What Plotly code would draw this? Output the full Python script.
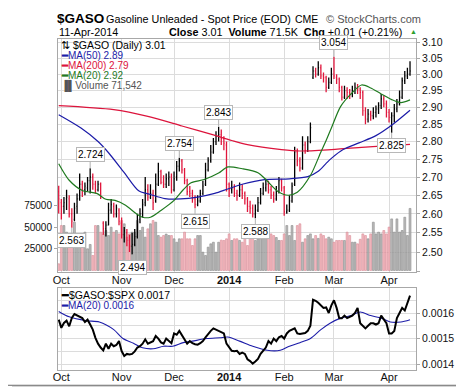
import math
import pandas as pd
import plotly.graph_objects as go

# ---------------- data ----------------
trade_days = pd.bdate_range("2013-09-30", "2014-04-11")
holidays = pd.to_datetime(["2013-11-28", "2013-12-25", "2014-01-01", "2014-01-20", "2014-02-17"])
trade_days = trade_days[~trade_days.isin(holidays)]

month_labels = ["Oct", "Nov", "Dec", "<b>2014</b>", "Feb", "Mar", "Apr"]

opens = [2.66,2.63,2.62,2.64,2.64,2.60,2.585,2.62,2.64,2.68,
         2.665,2.67,2.69,2.70,2.68,2.665,2.68,2.575,2.56,2.57,
         2.61,2.62,2.60,2.61,2.575,2.545,2.55,2.53,2.515,2.52,
         2.54,2.585,2.60,2.63,2.665,2.645,2.655,2.635,2.68,2.715,
         2.685,2.68,2.695,2.70,2.665,2.70,2.73,2.745,2.72,2.69,
         2.66,2.655,2.64,2.625,2.635,2.655,2.68,2.72,2.745,2.77,
         2.80,2.815,2.82,2.81,2.79,2.68,2.665,2.67,2.655,2.65,
         2.665,2.655,2.64,2.62,2.615,2.60,2.61,2.63,2.655,2.67,
         2.68,2.665,2.65,2.64,2.66,2.69,2.67,2.605,2.61,2.635,
         2.68,2.77,2.745,2.725,2.79,2.775,2.80,2.99,3.01,3.00,
         3.02,2.995,2.99,2.96,2.975,3.00,2.99,2.985,2.96,2.93,
         2.95,2.945,2.94,2.95,2.96,2.955,2.945,2.89,2.865,2.88,
         2.875,2.885,2.895,2.905,2.925,2.91,2.885,2.87,2.875,2.895,
         2.91,2.93,2.98,2.995,3.00]
highs = [2.676,2.64,2.645,2.665,2.65,2.615,2.63,2.655,2.71,2.69,
         2.685,2.70,2.724,2.71,2.69,2.69,2.685,2.58,2.58,2.63,
         2.64,2.63,2.625,2.615,2.59,2.565,2.56,2.545,2.55,2.56,
         2.60,2.615,2.64,2.70,2.68,2.68,2.665,2.71,2.74,2.72,
         2.705,2.71,2.715,2.71,2.715,2.745,2.754,2.75,2.725,2.695,
         2.675,2.665,2.65,2.65,2.665,2.69,2.74,2.755,2.79,2.81,
         2.83,2.843,2.835,2.815,2.80,2.685,2.69,2.68,2.665,2.685,
         2.68,2.66,2.645,2.635,2.625,2.625,2.645,2.67,2.685,2.695,
         2.69,2.675,2.66,2.675,2.70,2.695,2.675,2.625,2.65,2.685,
         2.785,2.78,2.755,2.815,2.80,2.815,2.855,3.025,3.02,3.04,
         3.03,3.005,2.995,2.99,3.02,3.054,3.00,2.99,2.965,2.965,
         2.96,2.955,2.965,2.975,2.97,2.96,2.95,2.90,2.895,2.89,
         2.90,2.905,2.915,2.94,2.935,2.92,2.895,2.885,2.91,2.925,
         2.95,2.99,3.01,3.02,3.04]
lows = [2.601,2.585,2.60,2.61,2.59,2.563,2.58,2.60,2.635,2.645,
        2.65,2.66,2.655,2.665,2.655,2.66,2.64,2.545,2.54,2.57,
        2.60,2.59,2.59,2.57,2.535,2.525,2.515,2.50,2.494,2.515,
        2.535,2.575,2.59,2.62,2.635,2.64,2.61,2.63,2.675,2.68,
        2.67,2.67,2.675,2.655,2.66,2.69,2.715,2.71,2.68,2.65,
        2.645,2.63,2.615,2.62,2.63,2.65,2.675,2.715,2.74,2.765,
        2.79,2.80,2.79,2.775,2.66,2.645,2.655,2.645,2.635,2.645,
        2.64,2.625,2.605,2.60,2.59,2.588,2.605,2.625,2.65,2.66,
        2.655,2.64,2.63,2.635,2.655,2.66,2.595,2.60,2.605,2.63,
        2.675,2.73,2.715,2.72,2.765,2.77,2.795,2.985,2.99,2.995,
        2.985,2.975,2.945,2.955,2.97,2.985,2.97,2.945,2.92,2.925,
        2.925,2.925,2.93,2.94,2.94,2.925,2.875,2.85,2.855,2.86,
        2.865,2.87,2.88,2.895,2.90,2.87,2.855,2.825,2.855,2.885,
        2.905,2.925,2.97,2.985,2.995]
closes = [2.64,2.62,2.63,2.645,2.60,2.58,2.615,2.64,2.68,2.665,
          2.675,2.69,2.70,2.68,2.665,2.68,2.645,2.56,2.57,2.61,
          2.625,2.60,2.615,2.58,2.545,2.555,2.53,2.515,2.52,2.54,
          2.585,2.60,2.625,2.665,2.645,2.655,2.63,2.68,2.715,2.685,
          2.68,2.695,2.70,2.665,2.695,2.73,2.745,2.72,2.69,2.66,
          2.655,2.64,2.625,2.635,2.655,2.675,2.72,2.745,2.77,2.80,
          2.815,2.82,2.81,2.795,2.68,2.665,2.67,2.655,2.65,2.665,
          2.655,2.64,2.62,2.615,2.60,2.61,2.63,2.655,2.67,2.68,
          2.665,2.65,2.64,2.66,2.69,2.67,2.605,2.61,2.635,2.675,
          2.77,2.745,2.725,2.79,2.775,2.80,2.84,3.01,3.00,3.02,
          2.995,2.99,2.96,2.975,3.00,2.995,2.985,2.96,2.93,2.95,
          2.945,2.94,2.95,2.96,2.955,2.945,2.89,2.865,2.88,2.875,
          2.885,2.895,2.905,2.925,2.91,2.885,2.87,2.875,2.895,2.91,
          2.93,2.98,2.995,3.00,3.01]
volume = [7700,51800,51800,44200,40300,38400,55700,28800,32600,34600,
          44200,25000,30000,17300,51800,51800,44200,42200,46100,40300,
          49900,44200,46100,42200,57600,53800,38400,42200,44200,44200,
          57600,46100,49900,38400,48000,53800,57600,55700,40300,38400,
          40300,42000,40300,40300,36500,32600,36500,36500,44200,36500,
          36500,28800,36500,40300,40300,21100,17300,26900,30700,32600,
          21100,32600,35000,34600,36500,42200,34600,36500,36500,34600,
          32600,40300,28800,40300,38400,34600,36500,40300,44200,44200,
          40300,42200,40300,38000,34600,34600,42200,51800,40300,51800,
          34600,51800,53800,32600,36500,40300,42200,36500,40300,37000,
          42200,40300,36500,38400,36500,32600,34600,34600,34600,34600,
          44200,40300,32600,32600,30700,36000,42200,40300,36500,42200,
          55700,42200,44200,42200,46100,42200,50000,59500,44200,59500,
          44200,46100,61400,40300,71542]

ma200_idx = [0, 21, 34, 47, 59, 66, 72, 85, 92, 104, 117, 123, 134]
ma200_val = [2.905, 2.893, 2.873, 2.845, 2.819, 2.803, 2.791, 2.777, 2.773, 2.777, 2.784, 2.787, 2.792]
ma50_idx = [0, 8.5, 15, 19, 25, 30.5, 35, 40.5, 46.5, 53, 59.5, 64.5, 70, 78.5, 88, 95, 99, 102, 104, 108.5, 114.5, 121, 127.5, 134]
ma50_val = [2.878, 2.839, 2.800, 2.768, 2.712, 2.662, 2.652, 2.641, 2.640, 2.645, 2.655, 2.667, 2.680, 2.693, 2.695, 2.701, 2.716, 2.738, 2.752, 2.777, 2.796, 2.817, 2.850, 2.891]
ma20_idx = [0, 4, 9, 14.5, 18, 21.5, 25.5, 29.5, 32, 35, 39, 44, 47.5, 50.5, 55.5, 61, 64.5, 70, 76, 79, 83.5, 87.5, 91, 96, 100, 102, 104, 107.5, 111.5, 115.5, 119, 123, 127, 130.5, 134]
ma20_val = [2.737, 2.691, 2.663, 2.655, 2.639, 2.636, 2.623, 2.601, 2.591, 2.591, 2.609, 2.636, 2.665, 2.684, 2.693, 2.711, 2.728, 2.723, 2.712, 2.693, 2.661, 2.650, 2.658, 2.704, 2.770, 2.803, 2.839, 2.902, 2.940, 2.967, 2.958, 2.940, 2.923, 2.914, 2.922]

ratio = [0.001574,0.001542,0.001561,0.001570,0.001548,0.001581,0.001596,0.001590,0.001585,0.001580,
         0.001565,0.001574,0.001555,0.001535,0.001503,0.001480,0.001465,0.001454,0.001480,0.001460,
         0.001480,0.001470,0.001475,0.001490,0.001451,0.001432,0.001440,0.001438,0.001440,0.001450,
         0.001465,0.001470,0.001480,0.001497,0.001480,0.001485,0.001490,0.001510,0.001500,0.001485,
         0.001480,0.001500,0.001490,0.001482,0.001520,0.001515,0.001530,0.001515,0.001500,0.001480,
         0.001490,0.001482,0.001478,0.001476,0.001482,0.001490,0.001505,0.001520,0.001530,0.001540,
         0.001535,0.001530,0.001528,0.001520,0.001480,0.001465,0.001452,0.001450,0.001452,0.001440,
         0.001445,0.001440,0.001419,0.001412,0.001402,0.001410,0.001420,0.001440,0.001455,0.001465,
         0.001490,0.001480,0.001500,0.001490,0.001505,0.001510,0.001500,0.001520,0.001530,0.001535,
         0.001540,0.001520,0.001518,0.001520,0.001522,0.001530,0.001550,0.001652,0.001648,0.001640,
         0.001630,0.001620,0.001622,0.001600,0.001630,0.001650,0.001620,0.001580,0.001580,0.001590,
         0.001580,0.001585,0.001590,0.001600,0.001620,0.001560,0.001550,0.001540,0.001550,0.001560,
         0.001560,0.001555,0.001560,0.001590,0.001575,0.001560,0.001520,0.001520,0.001530,0.001580,
         0.001600,0.001620,0.001610,0.001640,0.001668]
ratio_ma_idx = [0, 4, 10.5, 15.5, 21, 24.5, 28.5, 32, 36, 40, 43.5, 47.5, 51, 56.5, 61.5, 64.5, 69, 74, 79.5, 84.5, 88, 92, 96, 100, 103.5, 107.5, 111.5, 115, 119, 123, 126.5, 130.5, 134]
ratio_ma_val = [0.001606, 0.001585, 0.001570, 0.001565, 0.001535, 0.001500, 0.001482, 0.001464, 0.001460, 0.001470, 0.001470, 0.001484, 0.001490, 0.001500, 0.001503, 0.001506, 0.001490, 0.001470, 0.001454, 0.001454, 0.001470, 0.001484, 0.001500, 0.001535, 0.001560, 0.001580, 0.001590, 0.001604, 0.001590, 0.001580, 0.001565, 0.001565, 0.001574]

price_ticks = [2.45, 2.50, 2.55, 2.60, 2.65, 2.70, 2.75, 2.80, 2.85, 2.90, 2.95, 3.00, 3.05, 3.10]
vol_ticks = [25000, 50000, 75000]
ratio_ticks = [0.0014, 0.0015, 0.0016]
ratio_minor = [0.00145, 0.00155, 0.00165]

# (day index, price, label above?)
price_labels = [(12, 2.724, True), (5, 2.563, False), (28, 2.494, False), (46, 2.754, True),
                (52, 2.615, False), (61, 2.843, True), (75, 2.588, False), (105, 3.054, True),
                (127, 2.825, False)]

# ---------------- figure ----------------
n = len(closes)
idx = list(range(n))
is_up = [i > 0 and closes[i] >= closes[i - 1] for i in idx]

months = trade_days.to_period("M")
tick_idx = [i for i in range(1, len(trade_days)) if months[i] != months[i - 1]]

FONT = "Liberation Sans, Arial, sans-serif"
GRID = "#dcdcdc"
FRAME = "#a8a8a8"

fig = go.Figure()

fig.add_trace(go.Bar(
    x=idx, y=volume, width=0.72, xaxis="x", yaxis="y", hoverinfo="skip",
    marker=dict(color=["rgba(175,175,175,0.85)" if u else "rgba(242,175,182,0.85)" for u in is_up],
                line=dict(color=["#8a8a8a" if u else "#d88a96" for u in is_up], width=0.6)),
))

for flag, col in ((True, "#000000"), (False, "#e0163c")):
    sel = [i for i in idx if is_up[i] == flag]
    fig.add_trace(go.Ohlc(
        x=sel, open=[opens[i] for i in sel], high=[highs[i] for i in sel],
        low=[lows[i] for i in sel], close=[closes[i] for i in sel],
        increasing=dict(line=dict(color=col, width=1.3)),
        decreasing=dict(line=dict(color=col, width=1.3)),
        tickwidth=0.3, xaxis="x", yaxis="y2", hoverinfo="skip",
    ))

for xs, ys, col in ((ma200_idx, ma200_val, "#dc143c"), (ma50_idx, ma50_val, "#1c1ca8"),
                    (ma20_idx, ma20_val, "#1f7a1f")):
    fig.add_trace(go.Scatter(x=xs, y=ys, mode="lines", xaxis="x", yaxis="y2", hoverinfo="skip",
                             line=dict(color=col, width=1.2, shape="spline", smoothing=0.8)))

fig.add_trace(go.Scatter(x=ratio_ma_idx, y=ratio_ma_val, mode="lines", xaxis="x2", yaxis="y3",
                         line=dict(color="#1c1ca8", width=1.1, shape="spline", smoothing=0.8), hoverinfo="skip"))
fig.add_trace(go.Scatter(x=idx, y=ratio, mode="lines", xaxis="x2", yaxis="y3",
                         line=dict(color="#000000", width=2), hoverinfo="skip"))

W, H = 464, 387
ML, MR, MT, MB = 50, 56, 31, 20
PW, PH = W - ML - MR, H - MT - MB


def px_x(p):
    return (p - ML) / PW


def px_y(p):
    return (H - MB - p) / PH


xrange_ = [-0.27, 136.28]
xcommon = dict(range=xrange_, tickvals=tick_idx, ticktext=month_labels, showgrid=True, gridcolor=GRID,
               zeroline=False, showline=True, mirror=True, linecolor=FRAME, ticks="",
               ticklabelstandoff=-3,
               tickfont=dict(family=FONT, size=11, color="#111"))

fig.update_layout(
    width=W, height=H, margin=dict(l=ML, r=MR, t=MT, b=MB),
    paper_bgcolor="white", plot_bgcolor="white", showlegend=False,
    xaxis=dict(domain=[0, 1], anchor="y", rangeslider=dict(visible=False), **xcommon),
    yaxis=dict(domain=[px_y(268), 1], range=[-2300, 267000], side="left", showgrid=False,
               zeroline=False, tickvals=vol_ticks, ticktext=[str(v) for v in vol_ticks],
               ticks="outside", ticklen=3, tickcolor=FRAME,
               tickfont=dict(family=FONT, size=10, color="#111")),
    yaxis2=dict(overlaying="y", side="right", type="log", anchor="x",
                range=[math.log10(2.4483), math.log10(3.1103)],
                tickvals=price_ticks, ticktext=["" if v < 2.5 else f"{v:.2f}" for v in price_ticks],
                showgrid=True, gridcolor=GRID, zeroline=False, showline=True, mirror=True,
                linecolor=FRAME, ticks="outside", ticklen=3, tickcolor=FRAME,
                tickfont=dict(family=FONT, size=10.5, color="#111")),
    xaxis2=dict(domain=[0, 1], anchor="y3", rangeslider=dict(visible=False), **xcommon),
    yaxis3=dict(domain=[0, px_y(284)], range=[0.001377, 0.001697], side="right", anchor="x2",
                tickvals=ratio_ticks, ticktext=[f"{v:.4f}" for v in ratio_ticks],
                showgrid=True, gridcolor=GRID, zeroline=False, showline=True, mirror=True,
                linecolor=FRAME, ticks="outside", ticklen=3, tickcolor=FRAME,
                minor=dict(tickvals=ratio_minor, showgrid=True, gridcolor=GRID, ticks=""),
                tickfont=dict(family=FONT, size=10.5, color="#111")),
)

ann = []


def text(xp, yp, t, size=10.5, color="#000", anchor="left", family=FONT):
    ann.append(dict(x=px_x(xp), y=px_y(yp), xref="paper", yref="paper", text=t, showarrow=False,
                    xanchor=anchor, yanchor="middle", font=dict(family=family, size=size, color=color)))


# header
text(47, 10, "<b>$GASO</b>", size=13.5)
text(96, 10.5, "Gasoline Unleaded - Spot Price (EOD)", size=10.8)
text(285, 10.5, "CME", size=10.5)
text(316, 10.5, "© StockCharts.com", size=11, color="#555")
text(49, 23.5, "11-Apr-2014", size=10.8)
text(396, 23.5, "<b>Close</b> 3.01  <b>Volume</b> 71.5K  <b>Chg</b> +0.01 (+0.21%)", size=10.8, anchor="right")
text(400, 23.5, "▲", size=7, color="#2e9e2e")

# main legend
text(51, 37, "⇅ $GASO (Daily) 3.01", size=10.5)
text(51, 47.5, "<b>━</b>MA(50) 2.89", size=10, color="#1c1ca8")
text(51, 58, "<b>━</b>MA(200) 2.79", size=10, color="#dc143c")
text(51, 68.5, "<b>━</b>MA(20) 2.92", size=10, color="#1f7a1f")
text(51, 79, "▐▌Volume 71,542", size=10, color="#555")

# ratio legend
text(51, 291, "<b>━</b>$GASO:$SPX 0.0017", size=10.5, color="#000")
text(51, 301.5, "<b>━</b>MA(20) 0.0016", size=10, color="#1c1ca8")

for i, v, above in price_labels:
    ann.append(dict(x=i, y=math.log10(v), xref="x", yref="y2", text=f"{v:.3f}", showarrow=True,
                    arrowhead=0, arrowwidth=1, arrowcolor="#b0b0b0", ax=0, ay=-14 if above else 13,
                    bgcolor="white", bordercolor="#b8b8b8", borderwidth=1, borderpad=1,
                    font=dict(family=FONT, size=10, color="#000")))

fig.update_layout(annotations=ann)

# frame shadow
shapes = [
    dict(type="rect", xref="paper", yref="paper", x0=px_x(461), x1=px_x(465), y0=px_y(386), y1=px_y(4),
         fillcolor="#d4d4d4", line=dict(width=0), layer="above"),
    dict(type="rect", xref="paper", yref="paper", x0=px_x(4), x1=px_x(465), y0=px_y(388), y1=px_y(383),
         fillcolor="#d4d4d4", line=dict(width=0), layer="above"),
    dict(type="line", xref="paper", yref="paper", x0=px_x(460.5), x1=px_x(460.5), y0=px_y(0), y1=px_y(383),
         line=dict(color="#6a6a6a", width=1), layer="above"),
    dict(type="line", xref="paper", yref="paper", x0=px_x(0), x1=px_x(461), y0=px_y(382.5), y1=px_y(382.5),
         line=dict(color="#6a6a6a", width=1), layer="above"),
]
fig.update_layout(shapes=shapes)

fig.write_html("out.html")
